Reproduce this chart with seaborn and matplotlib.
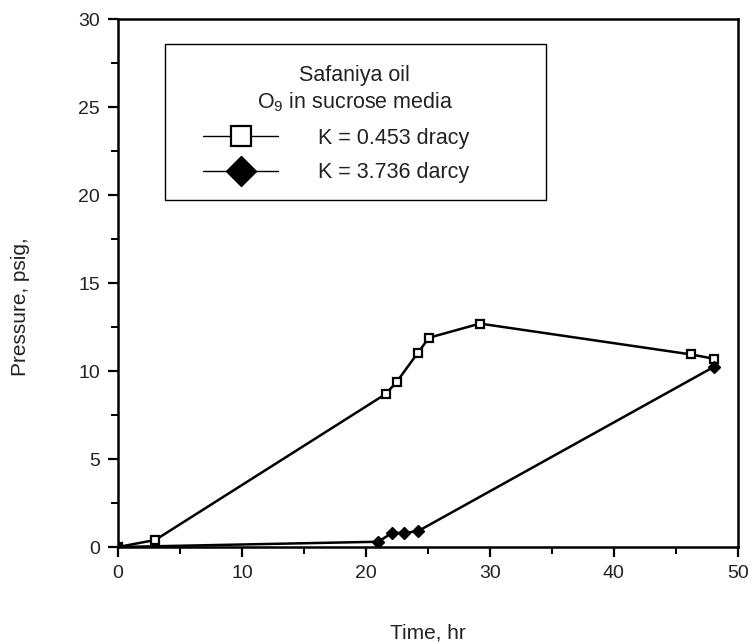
import numpy as np
import pandas as pd
import seaborn as sns
import matplotlib.pyplot as plt
from matplotlib.ticker import MultipleLocator
from matplotlib.patches import Rectangle

# K = 0.453 darcy (open squares)
time_low = [0, 3.0, 21.6, 22.5, 24.2, 25.1, 29.2, 46.2, 48.1]
pres_low = [0, 0.4, 8.7, 9.4, 11.05, 11.9, 12.7, 10.95, 10.7]

# K = 3.736 darcy (filled diamonds)
time_high = [0, 21.0, 22.1, 23.1, 24.2, 48.1]
pres_high = [0, 0.3, 0.8, 0.8, 0.9, 10.25]

label_low = "K = 0.453 dracy"
label_high = "K = 3.736 darcy"

low = pd.DataFrame({"time": time_low, "pressure": pres_low})
high = pd.DataFrame({"time": time_high, "pressure": pres_high})

sns.set_style("ticks")
plt.rcParams["font.family"] = ["Liberation Sans", "DejaVu Sans"]
txt = "#222222"

fig = plt.figure(figsize=(7.52, 6.44), dpi=100)
ax = fig.add_axes([0.157, 0.1506, 0.824, 0.8195])

sns.lineplot(data=low, x="time", y="pressure", ax=ax, color="black",
             sort=False, estimator=None, lw=1.8, marker="s", ms=6,
             mfc="white", mec="black", mew=1.6, label=label_low)
sns.lineplot(data=high, x="time", y="pressure", ax=ax, color="black",
             sort=False, estimator=None, lw=1.8, marker="D", ms=6.5,
             mfc="black", mec="black", mew=1, label=label_high)

ax.set_xlim(0, 50)
ax.set_ylim(0, 30)
ax.xaxis.set_major_locator(MultipleLocator(10))
ax.xaxis.set_minor_locator(MultipleLocator(5))
ax.yaxis.set_major_locator(MultipleLocator(5))
ax.yaxis.set_minor_locator(MultipleLocator(2.5))
ax.tick_params(which="major", length=7, width=1.6, labelsize=14, pad=6,
               color="black", labelcolor=txt)
ax.tick_params(which="minor", length=5, width=1.4, color="black")

for s in ax.spines.values():
    s.set_linewidth(1.8)
    s.set_color("black")

ax.set_xlabel("Time, hr", fontsize=15, color=txt)
ax.set_ylabel("Pressure, psig,", fontsize=15, color=txt)
ax.xaxis.set_label_coords(0.5, -0.144)
ax.yaxis.set_label_coords(-0.142, 0.456)

# legend box frame
ax.add_patch(Rectangle((0.076, 0.657), 0.614, 0.296, transform=ax.transAxes,
                       facecolor="none", edgecolor="black", lw=1.0, zorder=5))

leg = ax.legend(title="Safaniya oil\nO$_\\mathregular{9}$ in sucrose media",
                loc="upper left", bbox_to_anchor=(0.137, 0.69, 0.49, 0.224),
                mode="expand", fontsize=15.5, title_fontsize=15.5,
                frameon=False, markerscale=2.4,
                handlelength=3.5, handletextpad=1.86, labelspacing=0.64,
                borderpad=0, borderaxespad=0)
leg.get_title().set_linespacing(1.25)
leg.get_title().set_multialignment("center")
leg.get_title().set_color(txt)
for line in leg.get_lines():
    line.set_linewidth(1.0)
for t in leg.get_texts():
    t.set_color(txt)

fig.savefig("out.png", dpi=100)
